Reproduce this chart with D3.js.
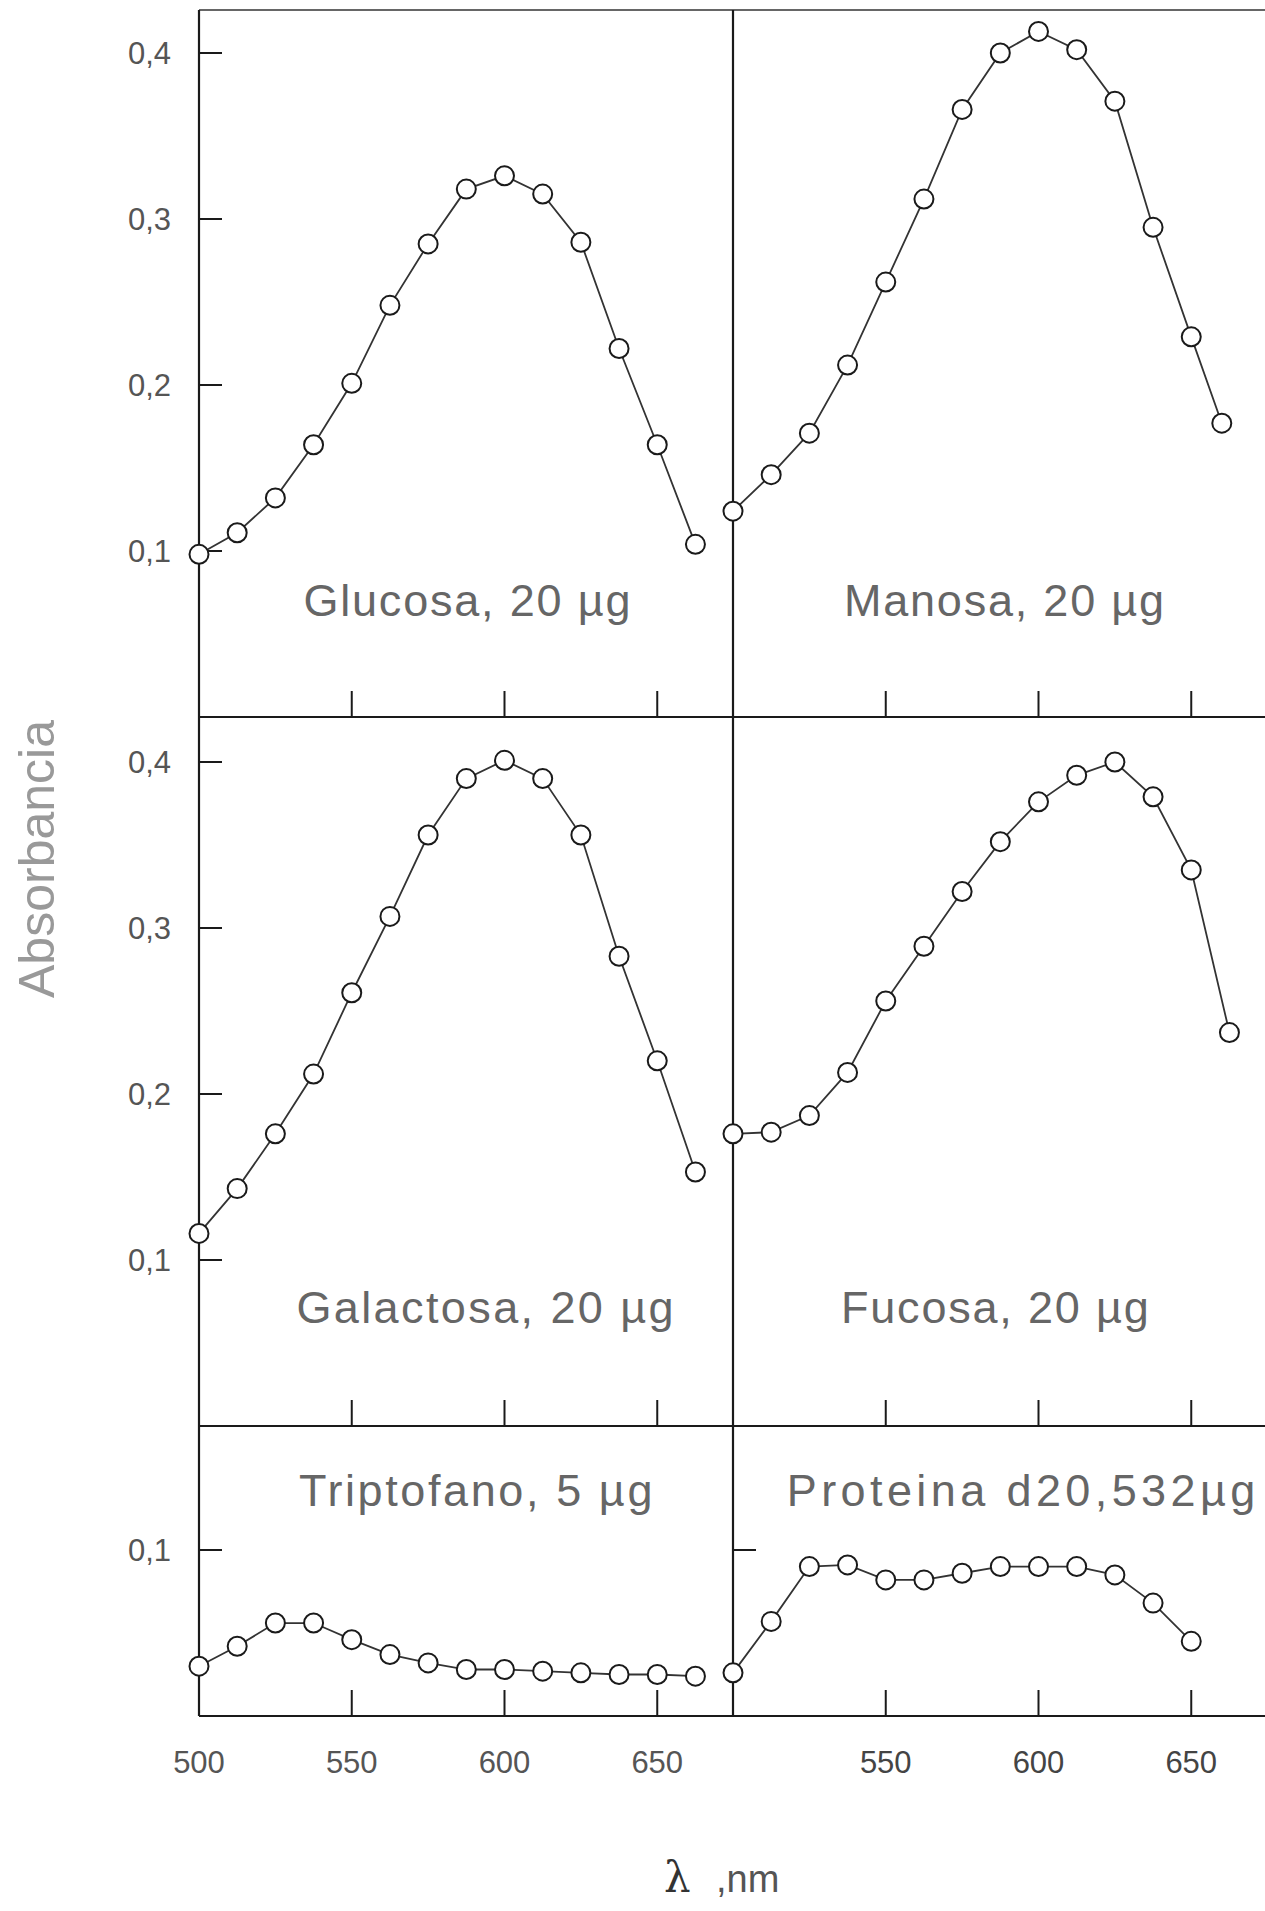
<!DOCTYPE html>
<html><head><meta charset="utf-8">
<script src="https://cdn.jsdelivr.net/npm/d3@7"></script>
<style>body{margin:0;background:#fff} svg{display:block}</style>
</head><body><svg id="c" width="1265" height="1911"></svg>
<script>
// ---------- data ----------
const wavelengths = [500,512.5,525,537.5,550,562.5,575,587.5,600,612.5,625,637.5,650,662.5];
const wavelengthsManosa = [500,512.5,525,537.5,550,562.5,575,587.5,600,612.5,625,637.5,650,660];
const wavelengthsProteina = [500,512.5,525,537.5,550,562.5,575,587.5,600,612.5,625,637.5,650];

const glucosa    = [0.098,0.111,0.132,0.164,0.201,0.248,0.285,0.318,0.326,0.315,0.286,0.222,0.164,0.104];
const manosa     = [0.124,0.146,0.171,0.212,0.262,0.312,0.366,0.400,0.413,0.402,0.371,0.295,0.229,0.177];
const galactosa  = [0.116,0.143,0.176,0.212,0.261,0.307,0.356,0.390,0.401,0.390,0.356,0.283,0.220,0.153];
const fucosa     = [0.176,0.177,0.187,0.213,0.256,0.289,0.322,0.352,0.376,0.392,0.400,0.379,0.335,0.237];
const triptofano = [0.030,0.042,0.056,0.056,0.046,0.037,0.032,0.028,0.028,0.027,0.026,0.025,0.025,0.024];
const proteina   = [0.026,0.057,0.090,0.091,0.082,0.082,0.086,0.090,0.090,0.090,0.085,0.068,0.045];

const yTicksMain = [0.1,0.2,0.3,0.4];
const yTickLabelsMain = ["0,1","0,2","0,3","0,4"];
const yTicksLow = [0.1];
const yTickLabelsLow = ["0,1"];
const xTicks = [550,600,650];
const xTickLabelsLeft = ["500","550","600","650"];
const xTickValuesLeft = [500,550,600,650];
const xTickLabelsRight = ["550","600","650"];

const panelLabels = ["Glucosa, 20 µg","Manosa, 20 µg","Galactosa, 20 µg","Fucosa, 20 µg","Triptofano, 5 µg","Proteina d20,532µg"];
const yTitle = "Absorbancia";

// ---------- layout ----------
const svg = d3.select("#c");
const X0 = 199, XM = 733, XR = 1265;
const pxPerNm = 3.055;
const rowTop = [10, 717, 1426];
const rowBot = [717, 1426, 1716];
const pxPerUnit = 1660;

const xLeft = d3.scaleLinear().domain([500, 500 + (XM - X0) / pxPerNm]).range([X0, XM]);
const xRight = d3.scaleLinear().domain([500, 500 + (XR - XM) / pxPerNm]).range([XM, XR]);
const yRows = rowTop.map((t, i) => d3.scaleLinear().domain([0, (rowBot[i] - t) / pxPerUnit]).range([rowBot[i], t]));

const panels = [
  {row:0, side:"L", xs:wavelengths, ys:glucosa, label:panelLabels[0], lx:588, ly:0.061, ls:1.8, yt:yTicksMain, ytl:yTickLabelsMain},
  {row:0, side:"R", xs:wavelengthsManosa, ys:manosa, label:panelLabels[1], lx:589, ly:0.061, ls:1.8, yt:[], ytl:[]},
  {row:1, side:"L", xs:wavelengths, ys:galactosa, label:panelLabels[2], lx:594, ly:0.062, ls:2.4, yt:yTicksMain, ytl:yTickLabelsMain},
  {row:1, side:"R", xs:wavelengths, ys:fucosa, label:panelLabels[3], lx:586, ly:0.062, ls:1.8, yt:[], ytl:[]},
  {row:2, side:"L", xs:wavelengths, ys:triptofano, label:panelLabels[4], lx:591, ly:0.1265, ls:2.6, yt:yTicksLow, ytl:yTickLabelsLow},
  {row:2, side:"R", xs:wavelengthsProteina, ys:proteina, label:panelLabels[5], lx:595, ly:0.1265, ls:4.4, yt:yTicksLow, ytl:[]}
];

const ink = "#1a1a1a";
const textGray = "#555";

// frame
const frame = svg.append("g").attr("stroke", ink).attr("stroke-width", 2.2).attr("fill", "none");
frame.append("line").attr("x1", X0).attr("x2", XR).attr("y1", rowTop[0]).attr("y2", rowTop[0]).attr("stroke-width", 1.6).attr("stroke", "#333");
rowBot.forEach(b => frame.append("line").attr("x1", X0).attr("x2", XR).attr("y1", b).attr("y2", b));
frame.append("line").attr("x1", X0).attr("x2", X0).attr("y1", rowTop[0]).attr("y2", rowBot[2]);
frame.append("line").attr("x1", XM).attr("x2", XM).attr("y1", rowTop[0]).attr("y2", rowBot[2]);

panels.forEach(p => {
  const x = p.side === "L" ? xLeft : xRight;
  const y = yRows[p.row];
  const g = svg.append("g");
  // x ticks (inward, upward from panel bottom)
  g.selectAll(".xt").data(xTicks).join("line")
    .attr("x1", d => x(d)).attr("x2", d => x(d))
    .attr("y1", y(0)).attr("y2", y(0) - 26)
    .attr("stroke", ink).attr("stroke-width", 2);
  // y ticks
  g.selectAll(".yt").data(p.yt).join("line")
    .attr("x1", x(500)).attr("x2", x(500) + 23)
    .attr("y1", d => y(d)).attr("y2", d => y(d))
    .attr("stroke", ink).attr("stroke-width", 2);
  g.selectAll(".ytl").data(p.ytl).join("text")
    .attr("x", 171).attr("y", (d, i) => y(p.yt[i]) + 11)
    .attr("text-anchor", "end").attr("font-family", "Liberation Sans, Arial, sans-serif")
    .attr("font-size", 31).attr("fill", textGray).text(d => d);
  // panel label
  g.append("text").attr("x", x(p.lx)).attr("y", y(p.ly))
    .attr("text-anchor", "middle").attr("font-family", "Liberation Sans, Arial, sans-serif")
    .attr("font-size", 45).attr("letter-spacing", p.ls).attr("fill", "#666").text(p.label);
  // line
  const pts = p.xs.map((w, i) => [w, p.ys[i]]);
  g.append("path").datum(pts)
    .attr("d", d3.line().x(d => x(d[0])).y(d => y(d[1])))
    .attr("fill", "none").attr("stroke", "#333").attr("stroke-width", 1.8);
  g.selectAll("circle").data(pts).join("circle")
    .attr("cx", d => x(d[0])).attr("cy", d => y(d[1])).attr("r", 9.5)
    .attr("fill", "#fff").attr("stroke", ink).attr("stroke-width", 2);
});

// x tick labels
const yb = yRows[2];
svg.selectAll(".xl").data(xTickLabelsLeft).join("text")
  .attr("x", (d, i) => xLeft(xTickValuesLeft[i])).attr("y", yb(0) + 57)
  .attr("text-anchor", "middle").attr("font-family", "Liberation Sans, Arial, sans-serif")
  .attr("font-size", 31).attr("fill", textGray).text(d => d);
svg.selectAll(".xr").data(xTickLabelsRight).join("text")
  .attr("x", (d, i) => xRight(xTicks[i])).attr("y", yb(0) + 57)
  .attr("text-anchor", "middle").attr("font-family", "Liberation Sans, Arial, sans-serif")
  .attr("font-size", 31).attr("fill", "#444").text(d => d);

// axis titles
svg.append("text").attr("x", 664).attr("y", 1892)
  .attr("font-family", "DejaVu Serif, serif").attr("font-size", 42).attr("fill", "#333").text("λ");
svg.append("text").attr("x", 716).attr("y", 1892)
  .attr("font-family", "Liberation Sans, Arial, sans-serif").attr("font-size", 38).attr("fill", "#555").text(",nm");
svg.append("text").attr("transform", "translate(54,859) rotate(-90)")
  .attr("text-anchor", "middle").attr("font-family", "Liberation Sans, Arial, sans-serif")
  .attr("font-size", 50).attr("fill", "#999").text(yTitle);
</script></body></html>
